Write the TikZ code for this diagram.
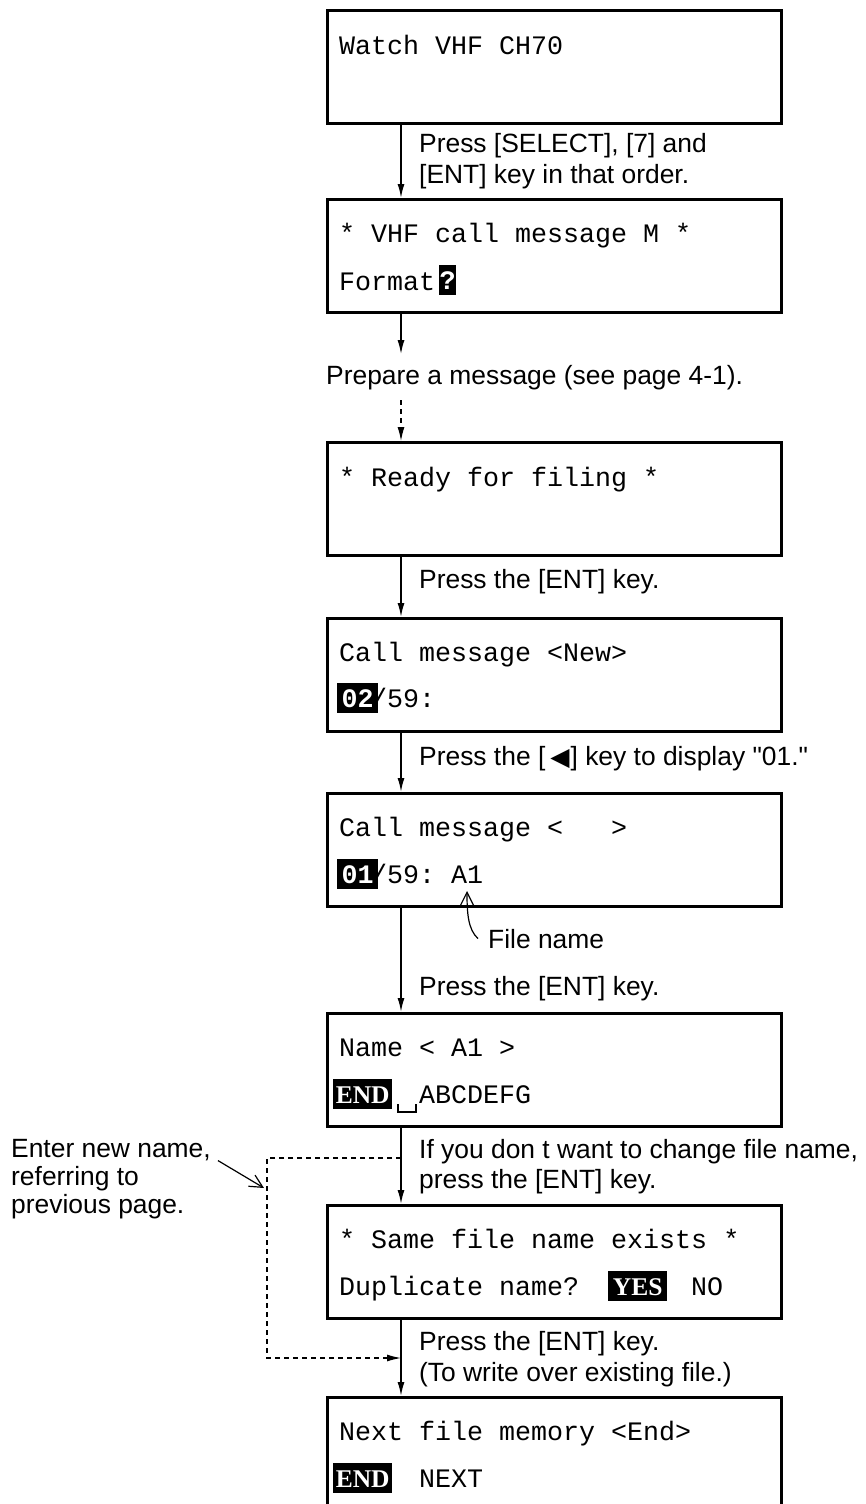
\documentclass[tikz,border=0pt]{standalone}
\usepackage{fontspec}
\setmainfont{Liberation Sans}[Ligatures=TeXOff]
\setmonofont{Liberation Mono}
\newfontfamily\symfont{DejaVu Sans}
\newfontfamily\hiserif{Liberation Serif}
\usetikzlibrary{arrows.meta}
\tikzset{
  scrbox/.style={draw, line width=2.6pt, minimum width=454pt, minimum height=113pt, anchor=north west, inner sep=0pt},
  monotxt/.style={font=\fontsize{26.67pt}{30pt}\ttfamily, anchor=base west, inner sep=0pt},
  lbl/.style={font=\fontsize{26.4pt}{31pt}\selectfont, anchor=base west, inner sep=0pt},
  hilite/.style={fill=black, text=white, font=\fontsize{26.67pt}{30pt}\ttfamily\bfseries, inner sep=0pt, minimum height=30pt, text height=18pt, text depth=0pt, anchor=north west},
  hiword/.style={hilite, font=\fontsize{25.5pt}{30pt}\hiserif\bfseries, minimum width=59pt},
  arr/.style={line width=1.6pt, -{Latex[length=14pt,width=7pt]}},
  dsh/.style={line width=1.2pt, dash pattern=on 5pt off 4pt},
  ptr/.style={line width=1.2pt, -{Straight Barb[length=13pt,width=13pt]}},
}
\begin{document}
\begin{tikzpicture}[x=1pt,y=-1pt]
\useasboundingbox (0,0) rectangle (866,1504);
\coordinate (ax) at (401,0);

% boxes
\node[scrbox] (b1) at (326,9) {};
\node[scrbox] (b2) at (326,198) {};
\node[scrbox] (b3) at (326,441) {};
\node[scrbox] (b4) at (326,617) {};
\node[scrbox] (b5) at (326,792) {};
\node[scrbox] (b6) at (326,1012) {};
\node[scrbox] (b7) at (326,1204) {};
\node[scrbox, minimum height=110pt] (b8) at (326,1396) {};

% box texts
\node[monotxt] (t1) at (339,55) {Watch VHF CH70};

\node[monotxt] (t2a) at (339,242) {* VHF call message M *};
\node[monotxt] (t2b) at (339,290) {Format};
\node[hilite, minimum width=17pt] (h2) at (439,265) {?};

\node[monotxt] (t3) at (339,486) {* Ready for filing *};

\node[monotxt] (t4a) at (339,661) {Call message <New>};
\node[hilite, minimum width=41pt] (h4) at (337,683) {02};
\node[monotxt] (t4b) at (371,707) {/59:};

\node[monotxt] (t5a) at (339,836) {Call message <~~~>};
\node[hilite, minimum width=41pt] (h5) at (337,859) {01};
\node[monotxt] (t5b) at (371,883) {/59: A1};

\node[monotxt] (t6a) at (339,1056) {Name < A1 >};
\node[hiword] (h6) at (333,1079) {END};
\draw[line width=1.3pt] (398,1104) -- (398,1112) -- (416,1112) -- (416,1104);
\node[monotxt] (t6b) at (419,1103) {ABCDEFG};

\node[monotxt] (t7a) at (339,1248) {* Same file name exists *};
\node[monotxt] (t7b) at (339,1295) {Duplicate name?};
\node[hiword] (h7) at (608,1271) {YES};
\node[monotxt] (t7c) at (691,1295) {NO};

\node[monotxt] (t8a) at (339,1440) {Next file memory <End>};
\node[hiword] (h8) at (333,1463) {END};
\node[monotxt] (t8b) at (419,1487) {NEXT};

% labels
\node[lbl] (l1a) at (419,152) {Press [SELECT], [7] and};
\node[lbl] (l1b) at (419,183) {[ENT] key in that order.};
\node[lbl, inner ysep=10.5pt] (prep) at (326,384) {Prepare a message (see page 4-1).};
\node[lbl] (l3) at (419,588) {Press the [ENT] key.};
\node[lbl] (l4) at (419,765) {Press the [\kern5pt{\symfont\fontsize{25pt}{25pt}\selectfont ◀}\kern1pt] key to display "01."};
\node[lbl] (fn) at (488,948) {File name};
\node[lbl] (l5) at (419,995) {Press the [ENT] key.};
\node[lbl] (l6a) at (419,1158) {If you don t want to change file name,};
\node[lbl] (l6b) at (419,1188) {press the [ENT] key.};
\node[lbl] (l7a) at (419,1350) {Press the [ENT] key.};
\node[lbl] (l7b) at (419,1381) {(To write over existing file.)};
\node[lbl] (en1) at (11,1157) {Enter new name,};
\node[lbl] (en2) at (11,1185) {referring to};
\node[lbl] (en3) at (11,1213) {previous page.};

% connectors
\draw[arr] (b1.south -| ax) -- (b2.north -| ax);
\draw[arr] (b2.south -| ax) -- (prep.north -| ax);
\draw[arr, dsh] (prep.south -| ax) -- (b3.north -| ax);
\draw[arr] (b3.south -| ax) -- (b4.north -| ax);
\draw[arr] (b4.south -| ax) -- (b5.north -| ax);
\draw[arr] (b5.south -| ax) -- (b6.north -| ax);
\draw[arr] (b6.south -| ax) -- (b7.north -| ax);
\draw[arr] (b7.south -| ax) -- (b8.north -| ax);

\coordinate (a1) at (467,891);
\draw[ptr] ([xshift=-10pt]fn.west) .. controls +(-10,-9) and +(0,22) .. (a1);

\coordinate (lp1) at (267,1158);
\coordinate (lp2) at (267,1358);
\draw[arr, dsh] (ax |- lp1) -- (lp1) -- (lp2) -- (ax |- lp2);

\coordinate (ptip) at (264,1188);
\draw[ptr] ([xshift=7pt]en1.south east) -- (ptip);
\end{tikzpicture}
\end{document}
